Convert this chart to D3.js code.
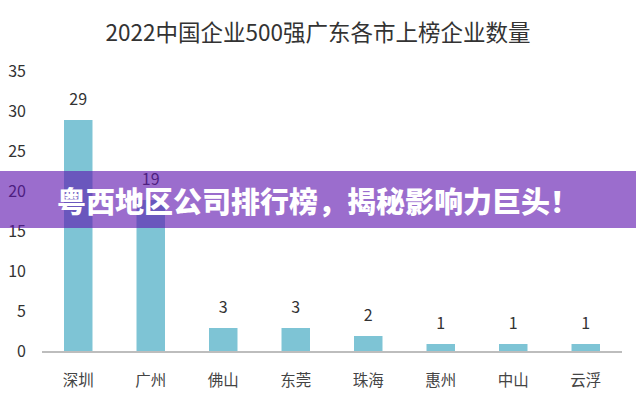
<!DOCTYPE html>
<html>
<head>
<meta charset="utf-8">
<script src="https://cdn.jsdelivr.net/npm/d3@7/dist/d3.min.js"></script>
<style>
  html, body { margin: 0; padding: 0; background: #fff; }
  svg { display: block; font-family: "Noto Sans CJK SC", "Noto Sans", sans-serif; }
</style>
</head>
<body>
<svg id="chart" width="636" height="400"></svg>
<script>
const title = "2022中国企业500强广东各市上榜企业数量";
const bannerText = "粤西地区公司排行榜，揭秘影响力巨头！";
const cities = ["深圳", "广州", "佛山", "东莞", "珠海", "惠州", "中山", "云浮"];
const counts = [29, 19, 3, 3, 2, 1, 1, 1];
const yTicks = [0, 5, 10, 15, 20, 25, 30, 35];

const svg = d3.select("#chart");
const W = 636, H = 400;

const x = d3.scaleBand().domain(cities).range([42, 622]).paddingInner(0.607).paddingOuter(0.3035);
const y = d3.scaleLinear().domain([0, 35]).range([352, 72]);

// title
svg.append("text")
  .attr("x", 318).attr("y", 31)
  .attr("text-anchor", "middle").attr("dominant-baseline", "central")
  .attr("font-size", 22.5).attr("fill", "#333")
  .text(title);

// y axis labels (no line)
const yAxis = d3.axisLeft(y).tickValues(yTicks).tickSize(0).tickPadding(0);
const yg = svg.append("g").attr("transform", "translate(26,0)").call(yAxis);
yg.select(".domain").remove();
yg.selectAll("text")
  .attr("font-size", 16).attr("fill", "#333")
  .attr("font-family", "'Noto Sans CJK SC', 'Noto Sans', sans-serif")
  .attr("dy", null).attr("y", -3)
  .attr("dominant-baseline", "central");

// bars
svg.append("g").selectAll("rect")
  .data(cities)
  .join("rect")
  .attr("x", d => x(d))
  .attr("width", x.bandwidth())
  .attr("y", (d, i) => y(counts[i]))
  .attr("height", (d, i) => y(0) - y(counts[i]))
  .attr("fill", "#7ec4d5");

// x axis
const xAxis = d3.axisBottom(x).tickSize(0).tickPadding(0);
const xg = svg.append("g").attr("transform", `translate(0,${y(0)})`).call(xAxis);
xg.select(".domain").attr("stroke", "#bdbdbd").attr("stroke-width", 2).attr("d", "M42,0H622");
xg.selectAll("text")
  .attr("font-size", 15.5).attr("fill", "#444")
  .attr("font-family", "'Noto Sans CJK SC', 'Noto Sans', sans-serif")
  .attr("dy", null).attr("y", 27)
  .attr("dominant-baseline", "central");

// value labels
svg.append("g").selectAll("text")
  .data(cities)
  .join("text")
  .attr("x", d => x(d) + x.bandwidth() / 2)
  .attr("y", (d, i) => y(counts[i]) - 22)
  .attr("text-anchor", "middle").attr("dominant-baseline", "central")
  .attr("font-size", 16).attr("fill", "#333")
  .text((d, i) => counts[i]);

// banner overlay
svg.append("rect")
  .attr("x", 0).attr("y", 171).attr("width", W).attr("height", 57)
  .attr("fill", "rgb(93,20,174)").attr("fill-opacity", 0.62);
svg.append("text")
  .attr("x", 318).attr("y", 200)
  .attr("text-anchor", "middle").attr("dominant-baseline", "central")
  .attr("font-size", 29).attr("font-weight", 900).attr("fill", "#fff")
  .text(bannerText);
</script>
</body>
</html>
